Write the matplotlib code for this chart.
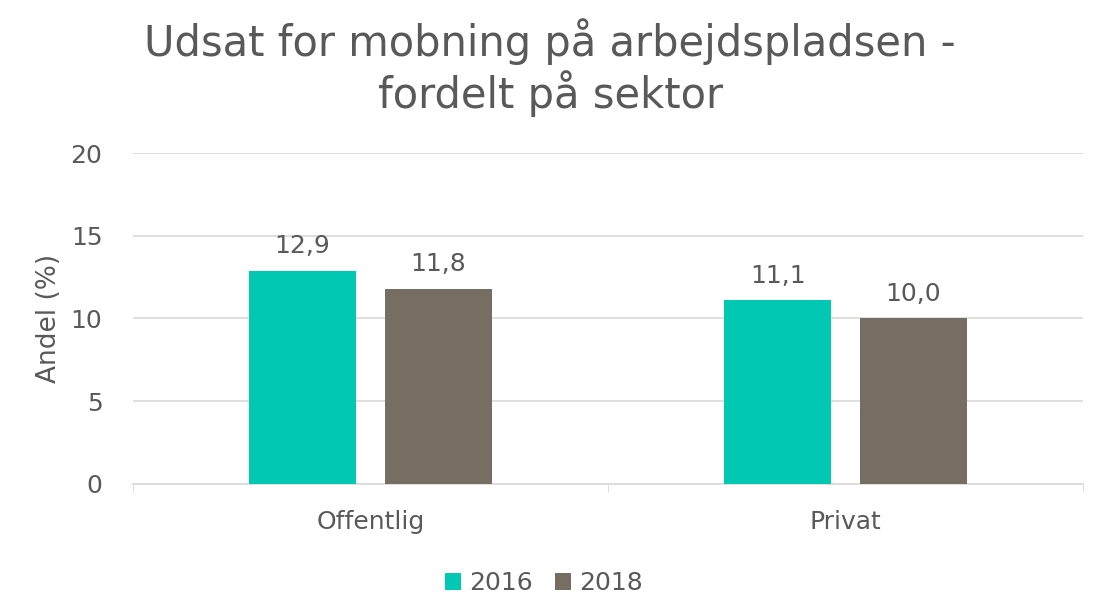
import numpy as np
import matplotlib.pyplot as plt

plt.rcParams['font.family'] = ['DejaVu Sans']

sectors = ['Offentlig', 'Privat']
years = ['2016', '2018']
values_2016 = [12.9, 11.1]
values_2018 = [11.8, 10.0]

teal = '#00C8B2'
taupe = '#776E63'
txt = '#595959'

fig = plt.figure(figsize=(10.94, 5.97), dpi=100)
ax = fig.add_axes([0.1216, 0.1893, 0.8684, 0.5544])

x = np.arange(len(sectors))
w = 0.225
b1 = ax.bar(x - 0.143, values_2016, w, color=teal, label=years[0], zorder=3)
b2 = ax.bar(x + 0.143, values_2018, w, color=taupe, label=years[1], zorder=3)

for bars in (b1, b2):
    for r in bars:
        h = r.get_height()
        ax.annotate(f'{h:.1f}'.replace('.', ','), (r.get_x() + r.get_width() / 2, h),
                    xytext=(0, 9), textcoords='offset points', ha='center', va='bottom',
                    fontsize=18, color=txt)

ax.set_xlim(-0.5, 1.5)
ax.set_ylim(0, 20)
ax.set_yticks([0, 5, 10, 15, 20])
ax.yaxis.grid(True, color='#D9D9D9', linewidth=1.2, zorder=0)
ax.set_xticks(x)
ax.set_xticklabels(sectors)
ax.set_xticks([-0.5, 0.5, 1.5], minor=True)
ax.tick_params(axis='x', which='major', length=0, pad=19, labelsize=18, labelcolor=txt)
ax.tick_params(axis='x', which='minor', length=6, color='#D9D9D9')
ax.tick_params(axis='y', length=0, pad=22, labelsize=18, labelcolor=txt)
for s in ['top', 'right', 'left']:
    ax.spines[s].set_visible(False)
ax.spines['bottom'].set_color('#D9D9D9')
ax.spines['bottom'].set_linewidth(1.2)
ax.set_ylabel('Andel (%)', fontsize=19, color=txt, labelpad=6)

fig.suptitle('Udsat for mobning på arbejdspladsen -\nfordelt på sektor', fontsize=30,
             color=txt, x=0.503, y=0.97, linespacing=1.15)

fig.legend(handles=[b1, b2], labels=years, loc='lower center', bbox_to_anchor=(0.497, -0.035),
           ncol=2, frameon=False, fontsize=18, handlelength=0.65, handleheight=0.65,
           handletextpad=0.3, columnspacing=0.9, labelcolor=txt)

fig.savefig('out.png', dpi=100)
